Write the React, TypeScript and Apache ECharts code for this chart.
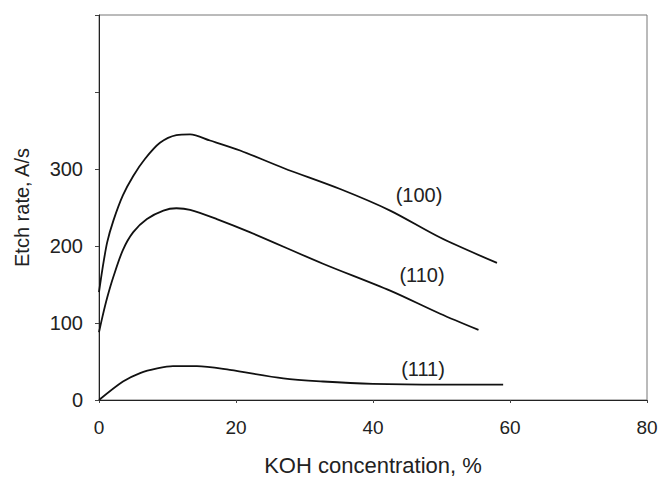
import React, { useEffect, useRef } from "react";
import * as echarts from "echarts";

const xTicks = [0, 20, 40, 60, 80];
const yTickLabels = [0, 100, 200, 300];

const s100: [number, number][] = [
  [0, 140], [0.5, 170], [1.2, 205], [2.1, 233], [3.5, 266], [5, 291], [6.7, 313], [8.9, 334],
  [11.3, 344], [13.3, 345], [16.2, 337], [20.6, 324], [27, 301], [35.2, 274],
  [42.5, 246], [49.8, 211], [58.1, 178],
];
const s110: [number, number][] = [
  [0, 88], [0.5, 108], [1.2, 133], [2.1, 160], [3.5, 195], [5, 218], [7, 235], [9.4, 246],
  [11.3, 249], [13.3, 247], [17.2, 235], [22, 218], [32.7, 177], [42.5, 142],
  [49.8, 112], [55.4, 91],
];
const s111: [number, number][] = [
  [0, 0], [3.5, 24], [6, 35], [8.5, 41], [10.8, 44], [14.3, 44], [19.1, 39],
  [26.9, 28], [32.7, 24], [40, 21], [50, 20], [59, 20],
];
const seriesNames = ["(100)", "(110)", "(111)"];

const FONT = "'Liberation Sans', Arial, sans-serif";

export default function App() {
  const ref = useRef<HTMLDivElement>(null);
  useEffect(() => {
    if (!ref.current) return;
    const chart = echarts.init(ref.current, null, { renderer: "svg" });
    const lineSeries = (name: string, data: [number, number][]) => ({
      name,
      type: "line",
      data,
      smooth: 0.3,
      showSymbol: false,
      lineStyle: { color: "#111", width: 1.8 },
    });
    chart.setOption({
      animation: false,
      backgroundColor: "#fff",
      grid: {
        left: 99, right: 13, top: 15, bottom: 80,
        containLabel: false,
        outerBoundsMode: "none",
        show: true, borderColor: "#777", borderWidth: 1,
      },
      xAxis: {
        type: "value",
        min: 0, max: 80, interval: 20,
        name: "KOH concentration, %",
        nameLocation: "middle",
        nameGap: 54,
        nameTextStyle: { fontFamily: FONT, fontSize: 22, color: "#222" },
        axisLine: { show: true, lineStyle: { color: "#222", width: 1 } },
        axisTick: { show: true, inside: false, length: 3, lineStyle: { color: "#444" } },
        axisLabel: {
          fontFamily: FONT, fontSize: 19, color: "#222", margin: 18,
          formatter: (v: number) => (xTicks.includes(v) ? String(v) : ""),
        },
        splitLine: { show: false },
      },
      yAxis: {
        type: "value",
        min: 0, max: 500, interval: 100,
        name: "Etch rate, A/s",
        nameLocation: "middle",
        nameGap: 67,
        nameRotate: 90,
        nameTextStyle: { fontFamily: FONT, fontSize: 20, color: "#222" },
        axisLine: { show: true, lineStyle: { color: "#222", width: 1 } },
        axisTick: { show: true, inside: false, length: 4, lineStyle: { color: "#444" } },
        axisLabel: {
          fontFamily: FONT, fontSize: 20, color: "#222", margin: 16,
          formatter: (v: number) => (yTickLabels.includes(v) ? String(v) : ""),
        },
        splitLine: { show: false },
      },
      series: [
        lineSeries(seriesNames[0], s100),
        lineSeries(seriesNames[1], s110),
        lineSeries(seriesNames[2], s111),
      ],
      graphic: [
        { type: "text", x: 419, y: 195, style: { text: seriesNames[0], font: `20px ${FONT}`, fill: "#222", align: "center", verticalAlign: "middle" } },
        { type: "text", x: 422, y: 275, style: { text: seriesNames[1], font: `20px ${FONT}`, fill: "#222", align: "center", verticalAlign: "middle" } },
        { type: "text", x: 423, y: 369, style: { text: seriesNames[2], font: `20px ${FONT}`, fill: "#222", align: "center", verticalAlign: "middle" } },
      ],
    });
    return () => chart.dispose();
  }, []);
  return <div ref={ref} style={{ width: 660, height: 480, position: "absolute", left: 0, top: 0, overflow: "hidden" }} />;
}
